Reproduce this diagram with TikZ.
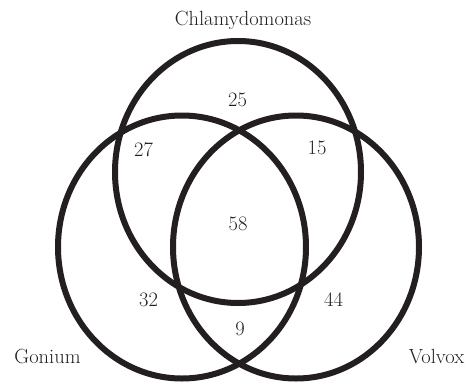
\documentclass[tikz,border=0pt]{standalone}
\begin{document}
\begin{tikzpicture}[x=1pt,y=-1pt]
\definecolor{ink}{HTML}{231F20}
\tikzset{
  setring/.style={draw=ink,line width=6pt},
  num/.style={text=ink,font=\fontsize{20.5}{24}\selectfont,inner sep=0pt},
  lab/.style={text=ink,font=\fontsize{20.5}{24}\selectfont,inner sep=0pt,anchor=base}
}
\useasboundingbox (0,0) rectangle (469,383);
\draw[setring] (238,172) ellipse [x radius=123pt, y radius=131pt];
\draw[setring] (182,247) ellipse [x radius=124pt, y radius=131.5pt];
\draw[setring] (296,247) ellipse [x radius=123pt, y radius=131.5pt];
\node[lab] (chl) at (243,25) {Chlamydomonas};
\node[lab] (gon) at (47.5,363) {Gonium};
\node[lab] (vol) at (436.5,363) {Volvox};
\node[num] (n25) at (237.5,100) {25};
\node[num] (n27) at (143.5,150) {27};
\node[num] (n15) at (317,148) {15};
\node[num] (n58) at (238,224) {58};
\node[num] (n32) at (148.5,300) {32};
\node[num] (n44) at (333.5,300) {44};
\node[num] (n9) at (240,328.5) {9};
\end{tikzpicture}
\end{document}
